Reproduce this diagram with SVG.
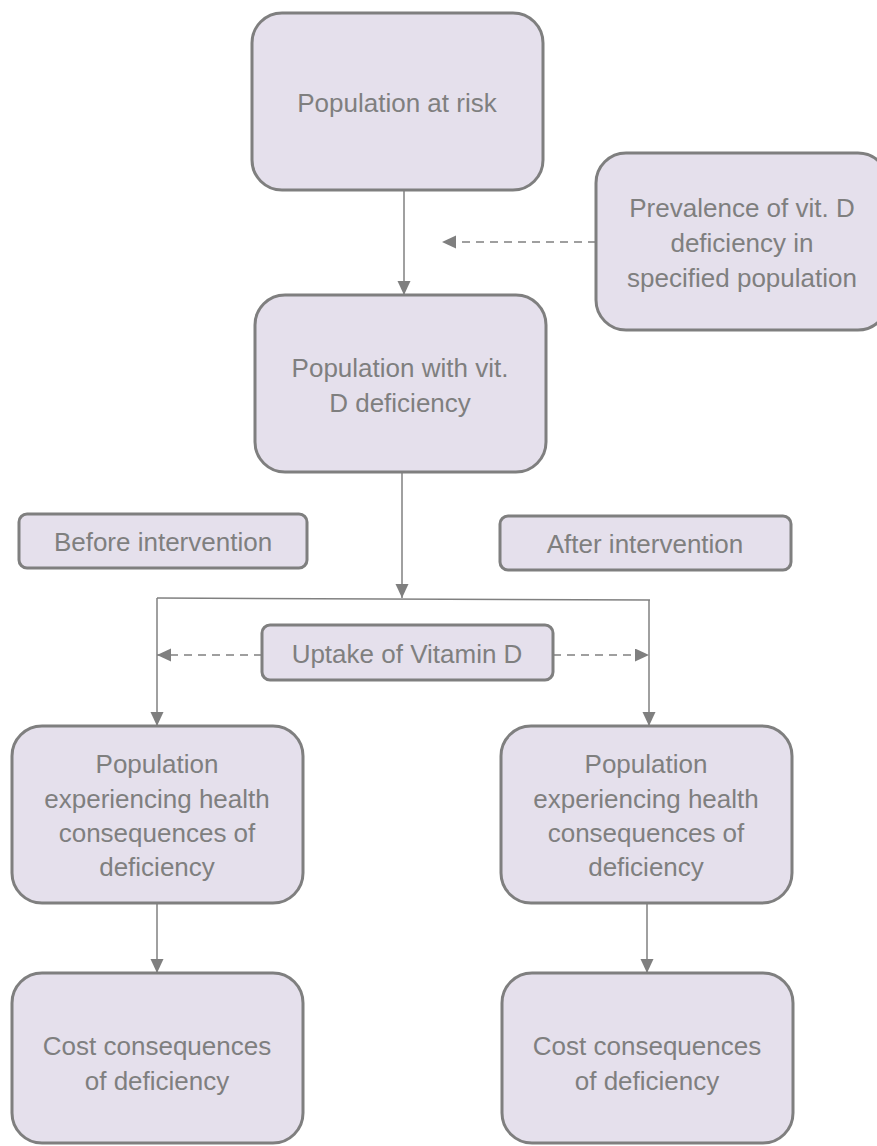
<svg xmlns="http://www.w3.org/2000/svg" width="877" height="1146" viewBox="0 0 877 1146">
<defs>
<marker id="ah" markerUnits="userSpaceOnUse" markerWidth="16" markerHeight="14" refX="14" refY="6.5" orient="auto">
<path d="M0,0 L14,6.5 L0,13 Z" fill="#7F7F7F"/>
</marker>
<style>
.box{fill:#E5E0EC;stroke:#7F7F7F;stroke-width:3}
.t{font-family:"Liberation Sans",Arial,sans-serif;font-size:26px;fill:#7F7F7F;text-anchor:middle}
.c{stroke:#808080;stroke-width:1.5;fill:none}
.d{stroke:#808080;stroke-width:1.5;fill:none;stroke-dasharray:8 6}
</style>
</defs>
<rect width="877" height="1146" fill="#FFFFFF"/>
<g id="connectors">
<line class="c" x1="404" y1="190" x2="404" y2="295" marker-end="url(#ah)"/>
<line class="d" x1="596" y1="242" x2="442" y2="242" marker-end="url(#ah)"/>
<line class="c" x1="402" y1="472" x2="402" y2="598" marker-end="url(#ah)"/>
<line class="c" x1="157" y1="598" x2="650" y2="600"/>
<line class="c" x1="157" y1="598" x2="157" y2="726" marker-end="url(#ah)"/>
<line class="c" x1="649" y1="600" x2="649" y2="726" marker-end="url(#ah)"/>
<line class="d" x1="262" y1="655" x2="157" y2="655" marker-end="url(#ah)"/>
<line class="d" x1="553" y1="655" x2="649" y2="655" marker-end="url(#ah)"/>
<line class="c" x1="157" y1="903" x2="157" y2="973" marker-end="url(#ah)"/>
<line class="c" x1="647" y1="903" x2="647" y2="973" marker-end="url(#ah)"/>
</g>
<g id="n-risk">
<rect class="box" x="252" y="13" width="291" height="177" rx="30"/>
<text class="t" x="397" y="112">Population at risk</text>
</g>
<g id="n-prevalence">
<rect class="box" x="596" y="153" width="292" height="177" rx="30"/>
<text class="t" x="742" y="217">Prevalence of vit. D</text>
<text class="t" x="742" y="252">deficiency in</text>
<text class="t" x="742" y="287">specified population</text>
</g>
<g id="n-deficiency">
<rect class="box" x="255" y="295" width="291" height="177" rx="30"/>
<text class="t" x="400" y="377">Population with vit.</text>
<text class="t" x="400" y="412">D deficiency</text>
</g>
<g id="n-before">
<rect class="box" x="19" y="514" width="288" height="54" rx="8"/>
<text class="t" x="163" y="551">Before intervention</text>
</g>
<g id="n-after">
<rect class="box" x="500" y="516" width="291" height="54" rx="8"/>
<text class="t" x="645" y="553">After intervention</text>
</g>
<g id="n-uptake">
<rect class="box" x="262" y="625" width="291" height="55" rx="8"/>
<text class="t" x="407" y="663">Uptake of Vitamin D</text>
</g>
<g id="n-health-left">
<rect class="box" x="12" y="726" width="291" height="177" rx="30"/>
<text class="t" x="157" y="773">Population</text>
<text class="t" x="157" y="808">experiencing health</text>
<text class="t" x="157" y="842">consequences of</text>
<text class="t" x="157" y="876">deficiency</text>
</g>
<g id="n-health-right">
<rect class="box" x="501" y="726" width="291" height="177" rx="30"/>
<text class="t" x="646" y="773">Population</text>
<text class="t" x="646" y="808">experiencing health</text>
<text class="t" x="646" y="842">consequences of</text>
<text class="t" x="646" y="876">deficiency</text>
</g>
<g id="n-cost-left">
<rect class="box" x="12" y="973" width="291" height="170" rx="30"/>
<text class="t" x="157" y="1055">Cost consequences</text>
<text class="t" x="157" y="1090">of deficiency</text>
</g>
<g id="n-cost-right">
<rect class="box" x="502" y="973" width="291" height="170" rx="30"/>
<text class="t" x="647" y="1055">Cost consequences</text>
<text class="t" x="647" y="1090">of deficiency</text>
</g>
</svg>
